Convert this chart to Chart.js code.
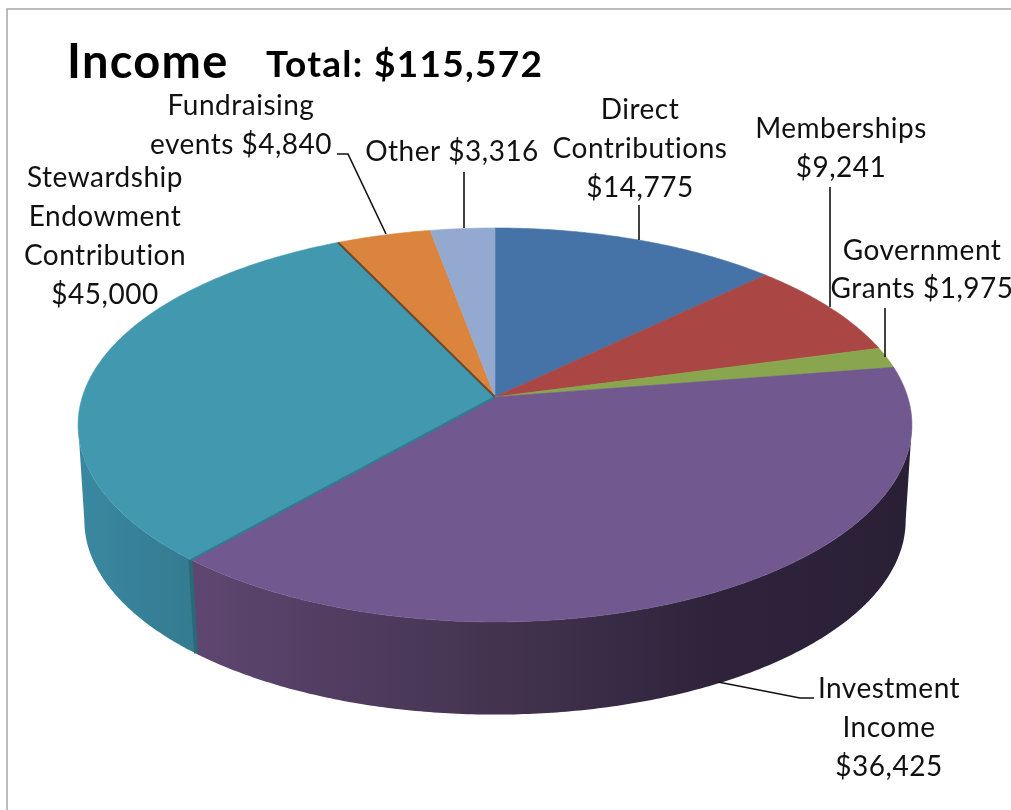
<!DOCTYPE html>
<html><head><meta charset="utf-8">
<style>html,body{margin:0;padding:0;background:#fff}canvas{display:block}</style>
<script src="https://cdn.jsdelivr.net/npm/chart.js@4/dist/chart.umd.min.js"></script>
</head><body><canvas id="c" width="1011" height="810"></canvas>
<script>
// Slice order as drawn, clockwise from 12 o'clock.
const categories = ["Direct Contributions","Memberships","Government Grants","Investment Income","Stewardship Endowment Contribution","Fundraising events","Other"];
// Amounts printed in the labels.
const labelAmounts = [14775,9241,1975,36425,45000,4840,3316];
// Slice sizes: the purple slice spans the angle of 45,000 and the teal one 36,425,
// although their printed labels say the opposite.
const sliceValues = [14775,9241,1975,45000,36425,4840,3316];
const sliceColors = ["#4572a7","#aa4643","#89a54e","#71588f","#4198af","#db843d","#93a9cf"];
const titleMain = "Income";
const titleTotal = "Total: $115,572";

const labelLines = [["Direct","Contributions","{v}"],["Memberships","{v}"],["Government","Grants {v}"],["Investment","Income","{v}"],["Stewardship","Endowment","Contribution","{v}"],["Fundraising","events {v}"],["Other {v}"]];
const labelX = [640,841,922,889,105,241,452];
const labelY = [[119,158,197],[138,177],[260,298],[698,737,776],[187,226,265,304],[115,154],[161]];
const leaders = [[[639,205],[639,240]],[[830,187],[830,307]],[[885,308],[885,357]],[[718,682],[800,698],[814,698]],[],[[337,154],[348,154],[386,234]],[[464,172],[464,228]]];

const AX=1.0395, BY=0.4862, K=0.142, WALL_S=0.985, WALL_DY=96;
const wallStops = {3:[[197,"#5e4670"],[500,"#43334f"],[720,"#2e233b"],[911,"#2a2036"]],4:[[77,"#3a89a0"],[130,"#37829a"],[197,"#347b8f"]]};

function proj(el,theta,wall){
  const sx=Math.sin(theta), sy=-Math.cos(theta), d=1-K*sy, r=el.outerRadius;
  const s=wall?WALL_S:1;
  return [el.x+s*r*AX*sx/d, el.y+(wall?WALL_DY:0)+s*r*BY*sy/d];
}
function edge(el,a0,a1,wall,fn){
  const n=Math.max(2,Math.ceil((a1-a0)/0.01));
  for(let i=0;i<=n;i++){const p=proj(el,a0+(a1-a0)*i/n,wall);fn(p);}
}
const FOLD=Math.PI/2+Math.asin(K);
const pie3d={id:'pie3d',
  beforeDraw(ch){
    const c=ch.ctx;c.save();c.fillStyle="#fff";c.fillRect(0,0,1011,810);
    c.strokeStyle="#a6a6a6";c.lineWidth=1.5;c.beginPath();c.moveTo(7,810);c.lineTo(7,9);c.lineTo(1011,9);c.stroke();c.restore();
  },
  beforeDatasetsDraw(ch){
    const c=ch.ctx, arcs=ch.getDatasetMeta(0).data;
    c.save();
    arcs.forEach((el,i)=>{
      // only the front-facing part of the rim has a visible wall
      const a0=Math.max(el.startAngle+Math.PI/2,FOLD),a1=Math.min(el.endAngle+Math.PI/2,2*Math.PI-FOLD);
      if(a1<=a0)return;
      const top=[],bot=[];
      edge(el,a0,a1,false,p=>top.push(p));edge(el,a0,a1,true,p=>bot.push(p));
      let fill=sliceColors[i];
      if(wallStops[i]){const st=wallStops[i],g=c.createLinearGradient(st[0][0],0,st[st.length-1][0],0),w=st[st.length-1][0]-st[0][0];
        st.forEach(s=>g.addColorStop((s[0]-st[0][0])/w,s[1]));fill=g;}
      c.beginPath();top.forEach((p,j)=>j?c.lineTo(p[0],p[1]):c.moveTo(p[0],p[1]));
      bot.reverse().forEach(p=>c.lineTo(p[0],p[1]));c.closePath();c.fillStyle=fill;c.fill();
    });
    // cut face between the teal and purple slices
    const e=arcs[4],a=e.startAngle+Math.PI/2,p=proj(e,a,false),q=proj(e,a,true);
    c.strokeStyle="#2b6879";c.lineWidth=4;c.beginPath();c.moveTo(p[0]-.5,p[1]);c.lineTo(q[0]+.5,q[1]);c.stroke();
    arcs.forEach((el,i)=>{
      const a0=el.startAngle+Math.PI/2,a1=el.endAngle+Math.PI/2;
      c.beginPath();c.moveTo(el.x,el.y);edge(el,a0,a1,false,pt=>c.lineTo(pt[0],pt[1]));c.closePath();
      c.fillStyle=sliceColors[i];c.fill();c.strokeStyle=sliceColors[i];c.lineWidth=.6;c.stroke();
    });
    // dark rims on the teal/purple and teal/orange boundaries
    const rim=(el,ang,col,w)=>{const t=proj(el,ang,false);c.strokeStyle=col;c.lineWidth=w;c.beginPath();c.moveTo(el.x,el.y);c.lineTo(t[0],t[1]);c.stroke();};
    rim(arcs[4],arcs[4].startAngle+Math.PI/2,"#2f7d92",2);
    rim(arcs[5],arcs[5].startAngle+Math.PI/2,"#6b4a2c",2);
    c.restore();
    return false;
  },
  afterDraw(ch){
    const c=ch.ctx;c.save();
    c.fillStyle="#000";c.textBaseline="alphabetic";
    c.textAlign="left";
    c.letterSpacing="1.3px";
    c.font="bold 47px Lato";c.fillText(titleMain,67,78);
    c.font="bold 37px Lato";c.fillText(titleTotal,266,77);
    c.letterSpacing="0.5px";
    c.font="28px Lato";c.textAlign="center";c.fillStyle="#111";
    const fmt=v=>"$"+v.toLocaleString("en-US");
    labelLines.forEach((ls,i)=>ls.forEach((t,j)=>c.fillText(t.replace("{v}",fmt(labelAmounts[i])),labelX[i],labelY[i][j])));
    c.strokeStyle="#111";c.lineWidth=1.6;
    leaders.forEach(l=>{if(!l.length)return;c.beginPath();l.forEach((p,j)=>j?c.lineTo(p[0],p[1]):c.moveTo(p[0],p[1]));c.stroke();});
    c.restore();
  }
};
new Chart(document.getElementById('c'),{
  type:'pie',
  data:{labels:categories,datasets:[{data:sliceValues,backgroundColor:sliceColors,borderWidth:0}]},
  options:{responsive:false,animation:false,layout:{padding:{left:0,right:21,top:0,bottom:16}},
    plugins:{legend:{display:false},title:{display:false},tooltip:{enabled:false}}},
  plugins:[pie3d]
});
</script></body></html>
